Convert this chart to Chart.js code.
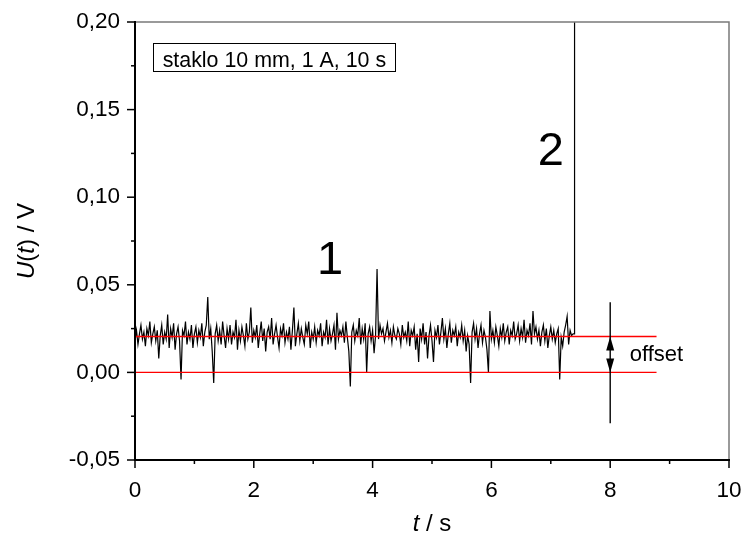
<!DOCTYPE html>
<html><head><meta charset="utf-8">
<script src="https://cdn.jsdelivr.net/npm/chart.js@4"></script>
<style>html,body{margin:0;padding:0;background:#fff}</style>
</head><body>
<canvas id="c" width="744" height="543"></canvas>
<script>
// ---- data ----
const sampleStep = 0.025; // s between samples
const signal = [
 0.018,0.024,0.016,0.022,0.027,0.019,0.023,0.015,0.025,0.021,0.029,0.017,0.022,0.026,0.018,0.024,0.008,0.021,0.027,0.016,
 0.023,0.019,0.033,0.014,0.025,0.020,0.028,0.013,0.022,0.026,0.018,-0.004,0.024,0.021,0.029,0.016,0.023,0.019,0.027,0.014,
 0.022,0.026,0.017,0.024,0.020,0.028,0.015,0.023,0.027,0.043,0.019,0.025,0.012,-0.006,0.022,0.027,0.018,0.024,0.016,0.029,
 0.021,0.014,0.025,0.019,0.027,0.016,0.023,0.020,0.030,0.013,0.024,0.018,0.026,0.021,0.015,0.028,0.019,0.023,0.037,0.017,
 0.024,0.020,0.027,0.014,0.022,0.029,0.018,0.025,0.012,0.023,0.026,0.019,0.031,0.016,0.022,0.027,0.020,0.014,0.025,0.021,
 0.028,0.017,0.023,0.019,0.026,0.013,0.024,0.037,0.015,0.022,0.028,0.018,0.025,0.020,0.016,0.027,0.022,0.029,0.014,0.023,
 0.019,0.026,0.017,0.024,0.021,0.028,0.015,0.023,0.020,0.030,0.016,0.025,0.018,0.022,0.027,0.013,0.034,0.019,0.024,0.021,
 0.026,0.017,0.029,0.020,0.012,-0.008,0.023,0.027,0.018,0.024,0.021,0.031,0.016,0.025,0.019,0.028,0.000,0.022,0.026,0.018,
 0.024,0.011,0.021,0.059,0.019,0.027,0.022,0.025,0.018,0.023,0.028,0.020,0.024,0.017,0.026,0.021,0.019,0.025,0.022,0.016,
 0.027,0.020,0.023,0.018,0.029,0.015,0.024,0.021,0.026,0.013,0.022,0.006,0.025,0.019,0.028,0.016,0.023,0.008,0.021,0.027,
 0.018,0.006,0.024,0.020,0.027,0.016,0.023,0.031,0.019,0.025,0.014,0.022,0.028,0.017,0.024,0.021,0.026,0.015,0.023,0.020,
 0.027,0.018,0.024,0.012,0.021,0.016,-0.006,0.023,0.028,0.019,0.025,0.014,0.022,0.027,0.017,0.024,0.020,0.013,0.000,0.035,
 0.019,0.024,0.017,0.026,0.021,0.015,0.025,0.020,0.028,0.018,0.023,0.026,0.016,0.024,0.021,0.029,0.019,0.022,0.027,0.018,
 0.025,0.020,0.030,0.017,0.024,0.021,0.028,0.016,0.035,0.022,0.026,0.019,0.024,0.015,0.023,0.027,0.018,0.025,0.014,0.021,
 0.026,0.019,0.024,0.017,0.022,0.025,-0.004,0.020,0.015,0.023,0.027,0.032,0.016,0.024,0.021,0.022
];
const jumpTime = [7.40, 7.40];
const jumpValue = [0.022, 0.25];
const offsetLevels = [0.0205, 0];
const refLineSpan = [0, 8.78];
const arrowTime = 8;
const arrowSpan = [0.040, -0.029];
const xMajor = [0, 2, 4, 6, 8, 10];
const xMinor = [1, 3, 5, 7, 9];
const yMajor = [-0.05, 0, 0.05, 0.10, 0.15, 0.20];
const yMinor = [-0.025, 0.025, 0.075, 0.125, 0.175];
const infoText = 'staklo 10 mm, 1 A, 10 s';

// ---- build datasets ----
const signalPts = signal.map((v, i) => ({x: i * sampleStep, y: v}));
jumpTime.forEach((t, i) => signalPts.push({x: t, y: jumpValue[i]}));
const refSets = offsetLevels.map(l => ({
  data: refLineSpan.map(t => ({x: t, y: l})),
  borderColor: '#ff0000', borderWidth: 1.4, pointRadius: 0, order: 0
}));

const FONT = '"Liberation Sans", Arial, sans-serif';

function drawMixed(ctx, parts, cx, cy, size) {
  let w = 0;
  parts.forEach(p => { ctx.font = (p[1] ? 'italic ' : '') + size + 'px ' + FONT; w += ctx.measureText(p[0]).width; });
  let x = cx - w / 2;
  ctx.textAlign = 'left'; ctx.textBaseline = 'alphabetic';
  parts.forEach(p => { ctx.font = (p[1] ? 'italic ' : '') + size + 'px ' + FONT; ctx.fillText(p[0], x, cy); x += ctx.measureText(p[0]).width; });
}

const deco = {
  id: 'deco',
  afterDraw(chart) {
    const {ctx, chartArea: a, scales: {x, y}} = chart;
    ctx.save();
    ctx.lineCap = 'butt';
    // frame
    ctx.strokeStyle = '#7a7a7a'; ctx.lineWidth = 1.5;
    ctx.beginPath(); ctx.moveTo(a.left, a.top); ctx.lineTo(a.right, a.top); ctx.lineTo(a.right, a.bottom); ctx.stroke();
    ctx.strokeStyle = '#000'; ctx.lineWidth = 2;
    ctx.beginPath(); ctx.moveTo(a.left, a.top - 1); ctx.lineTo(a.left, a.bottom); ctx.lineTo(a.right + 1, a.bottom); ctx.stroke();
    // ticks
    ctx.lineWidth = 1.5;
    const tick = (x1, y1, x2, y2) => { ctx.beginPath(); ctx.moveTo(x1, y1); ctx.lineTo(x2, y2); ctx.stroke(); };
    xMajor.forEach(v => { const p = x.getPixelForValue(v); tick(p, a.bottom, p, a.bottom + 8); });
    xMinor.forEach(v => { const p = x.getPixelForValue(v); tick(p, a.bottom, p, a.bottom + 4); });
    yMajor.forEach(v => { const p = y.getPixelForValue(v); tick(a.left, p, a.left - 8, p); });
    yMinor.forEach(v => { const p = y.getPixelForValue(v); tick(a.left, p, a.left - 4, p); });
    // offset arrow
    const ax = x.getPixelForValue(arrowTime);
    ctx.lineWidth = 1.4;
    tick(ax, y.getPixelForValue(arrowSpan[0]), ax, y.getPixelForValue(arrowSpan[1]));
    ctx.fillStyle = '#000';
    const head = (tipY, dir) => {
      ctx.beginPath(); ctx.moveTo(ax, tipY); ctx.lineTo(ax - 4, tipY + dir * 14); ctx.lineTo(ax + 4, tipY + dir * 14); ctx.closePath(); ctx.fill();
    };
    head(y.getPixelForValue(offsetLevels[0]), 1);
    head(y.getPixelForValue(offsetLevels[1]), -1);
    // labels on plot
    ctx.fillStyle = '#000'; ctx.textBaseline = 'alphabetic';
    ctx.font = '47px ' + FONT; ctx.textAlign = 'center';
    ctx.fillText('1', x.getPixelForValue(3.285), y.getPixelForValue(0.056));
    ctx.fillText('2', x.getPixelForValue(7.0), y.getPixelForValue(0.1183));
    ctx.font = '22px ' + FONT; ctx.textAlign = 'left';
    ctx.fillText('offset', x.getPixelForValue(8.33), y.getPixelForValue(0.0065));
    // info box
    const bl = x.getPixelForValue(0.297), br = x.getPixelForValue(4.367);
    const bt = y.getPixelForValue(0.188), bb = y.getPixelForValue(0.172);
    ctx.lineWidth = 1; ctx.strokeStyle = '#000';
    ctx.strokeRect(Math.round(bl) + 0.5, Math.round(bt) + 0.5, Math.round(br - bl), Math.round(bb - bt));
    ctx.font = '21.4px ' + FONT;
    ctx.fillText(infoText, bl + 10, bb - 4.5);
    // axis titles
    drawMixed(ctx, [['t', true], [' / s', false]], (a.left + a.right) / 2, 531, 24);
    ctx.save();
    ctx.translate(34, (a.top + a.bottom) / 2);
    ctx.rotate(-Math.PI / 2);
    drawMixed(ctx, [['U', true], ['(', false], ['t', true], [') / V', false]], 0, 0, 24);
    ctx.restore();
    ctx.restore();
  }
};

new Chart(document.getElementById('c'), {
  type: 'line',
  data: {
    datasets: [
      ...refSets,
      {data: signalPts, borderColor: '#000', borderWidth: 1.2, pointRadius: 0, tension: 0, order: 1}
    ]
  },
  options: {
    responsive: false, animation: false, devicePixelRatio: 1,
    layout: {padding: {left: 0, top: 22, right: 15, bottom: 0}},
    plugins: {legend: {display: false}, tooltip: {enabled: false}},
    elements: {line: {tension: 0}},
    scales: {
      x: {
        type: 'linear', min: 0, max: 10,
        afterFit: s => { s.height = 83; s.paddingLeft = 0; s.paddingRight = 0; },
        afterBuildTicks: s => { s.ticks = xMajor.map(v => ({value: v})); },
        grid: {display: true, color: 'rgba(0,0,0,0)', drawOnChartArea: false, drawTicks: true, tickLength: 8},
        border: {display: false},
        ticks: {color: '#000', font: {family: FONT, size: 22.5}, padding: 9, maxRotation: 0, callback: v => String(v)}
      },
      y: {
        type: 'linear', min: -0.05, max: 0.2,
        afterFit: s => { s.width = 135; s.paddingTop = 0; s.paddingBottom = 0; },
        afterBuildTicks: s => { s.ticks = yMajor.map(v => ({value: v})); },
        grid: {display: true, color: 'rgba(0,0,0,0)', drawOnChartArea: false, drawTicks: true, tickLength: 8},
        border: {display: false},
        ticks: {color: '#000', font: {family: FONT, size: 22.5}, padding: 7,
          callback: v => (Math.abs(v) < 1e-9 ? 0 : v).toFixed(2).replace('.', ',')}
      }
    }
  },
  plugins: [deco]
});
</script>
</body></html>
